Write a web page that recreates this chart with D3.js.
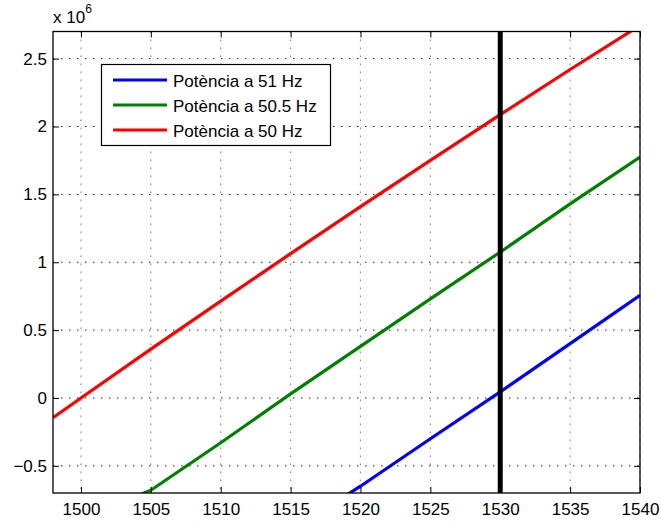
<!DOCTYPE html>
<html>
<head>
<meta charset="utf-8">
<script src="https://cdn.jsdelivr.net/npm/d3@7"></script>
<style>
  html, body { margin: 0; padding: 0; background: #fff; }
  svg { display: block; font-family: "Liberation Sans", Arial, Helvetica, sans-serif; }
</style>
</head>
<body>
<svg id="chart" width="661" height="525"></svg>
<script>
// Rotor speed (rpm) and delivered power (W, in units of 1e6)
const speed = [1498, 1500, 1505, 1510, 1515, 1520, 1525, 1530, 1535, 1540];
const power50 = [-0.145, 0, 0.36, 0.714, 1.064, 1.41, 1.75, 2.087, 2.42, 2.745];
const power505 = [-1.05, -0.89, -0.68, -0.33, 0.03, 0.38, 0.73, 1.075, 1.43, 1.775];
const power51 = [-2.08, -1.94, -1.6, -1.3, -0.98, -0.65, -0.3, 0.045, 0.40, 0.756];

const markerSpeed = 1530;

const xTicks = [1500, 1505, 1510, 1515, 1520, 1525, 1530, 1535, 1540];
const yTicks = [-0.5, 0, 0.5, 1, 1.5, 2, 2.5];
const yTickLabels = ["\u22120.5", "0", "0.5", "1", "1.5", "2", "2.5"];

const legendLabels = ["Potència a 51 Hz", "Potència a 50.5 Hz", "Potència a 50 Hz"];
const legendColors = ["#0000ff", "#008000", "#ff0000"];

const series = [
  { ys: power50, color: "#ff0000" },
  { ys: power505, color: "#008000" },
  { ys: power51, color: "#0000ff" }
];

const svg = d3.select("#chart");
const plotLeft = 53, plotRight = 640, plotTop = 31.5, plotBottom = 493;
const fontSize = 17;

const x = d3.scaleLinear().domain([1498, 1540]).range([plotLeft, plotRight]);
const y = d3.scaleLinear().domain([-0.7, 2.7]).range([plotBottom, plotTop]);

svg.append("defs").append("clipPath").attr("id", "plotClip")
  .append("rect").attr("x", plotLeft).attr("y", plotTop)
  .attr("width", plotRight - plotLeft).attr("height", plotBottom - plotTop);

// dotted grid
const grid = svg.append("g");
grid.selectAll(".vg").data(xTicks).enter().append("line")
  .attr("x1", d => x(d)).attr("x2", d => x(d))
  .attr("y1", plotTop).attr("y2", plotBottom)
  .attr("stroke", "#8a8a8a").attr("stroke-width", 1.2)
  .attr("stroke-dasharray", "1.5,6.5");
grid.selectAll(".hg").data(yTicks).enter().append("line")
  .attr("x1", plotLeft).attr("x2", plotRight)
  .attr("y1", d => y(d)).attr("y2", d => y(d))
  .attr("stroke", "#222").attr("stroke-width", 1)
  .attr("stroke-dasharray", "1.5,6.5");

// power curves
const line = d3.line().x(d => x(d[0])).y(d => y(d[1]));
const plot = svg.append("g").attr("clip-path", "url(#plotClip)");
series.forEach(s => {
  plot.append("path")
    .attr("d", line(d3.zip(speed, s.ys)))
    .attr("fill", "none")
    .attr("stroke", s.color)
    .attr("stroke-width", 3.2)
    .attr("stroke-linejoin", "round");
});

// vertical marker at the operating speed
plot.append("line")
  .attr("x1", x(markerSpeed)).attr("x2", x(markerSpeed))
  .attr("y1", plotTop).attr("y2", plotBottom)
  .attr("stroke", "#000").attr("stroke-width", 5);

// axes box with inward ticks on all sides
const axisB = d3.axisBottom(x).tickValues(xTicks).tickSizeInner(-6).tickSizeOuter(0)
  .tickPadding(10).tickFormat(d3.format("d"));
const axisT = d3.axisTop(x).tickValues(xTicks).tickSizeInner(-6).tickSizeOuter(0).tickFormat("");
const axisL = d3.axisLeft(y).tickValues(yTicks).tickSizeInner(-6).tickSizeOuter(0).tickPadding(6)
  .tickFormat((d, i) => yTickLabels[i]);
const axisR = d3.axisRight(y).tickValues(yTicks).tickSizeInner(-6).tickSizeOuter(0).tickFormat("");

function styleAxis(g) {
  g.select(".domain").remove();
  g.selectAll(".tick line").attr("stroke", "#000");
  g.selectAll(".tick text").attr("fill", "#000").attr("font-size", fontSize)
    .attr("font-family", "'Liberation Sans', Arial, sans-serif");
}
svg.append("g").attr("transform", `translate(0,${plotBottom})`).call(axisB).call(styleAxis);
svg.append("g").attr("transform", `translate(0,${plotTop})`).call(axisT).call(styleAxis);
svg.append("g").attr("transform", `translate(${plotLeft},0)`).call(axisL).call(styleAxis);
svg.append("g").attr("transform", `translate(${plotRight},0)`).call(axisR).call(styleAxis);

svg.append("rect")
  .attr("x", plotLeft).attr("y", plotTop)
  .attr("width", plotRight - plotLeft).attr("height", plotBottom - plotTop)
  .attr("fill", "none").attr("stroke", "#000").attr("stroke-width", 1.3);

// exponent label
const expo = svg.append("text").attr("x", plotLeft).attr("y", 23)
  .attr("font-size", fontSize).attr("fill", "#000");
expo.append("tspan").text("x 10");
expo.append("tspan").attr("dy", -10).attr("font-size", 12).text("6");

// legend
const lg = svg.append("g");
lg.append("rect").attr("x", 101.5).attr("y", 64.5).attr("width", 229).attr("height", 81)
  .attr("fill", "#fff").attr("stroke", "#000").attr("stroke-width", 1.2);
legendLabels.forEach((lab, i) => {
  const cy = 80 + i * 25;
  lg.append("line").attr("x1", 113).attr("x2", 167).attr("y1", cy).attr("y2", cy)
    .attr("stroke", legendColors[i]).attr("stroke-width", 3.2);
  lg.append("text").attr("x", 173).attr("y", cy + 6.5)
    .attr("font-size", fontSize).attr("fill", "#000").text(lab);
});
</script>
</body>
</html>
